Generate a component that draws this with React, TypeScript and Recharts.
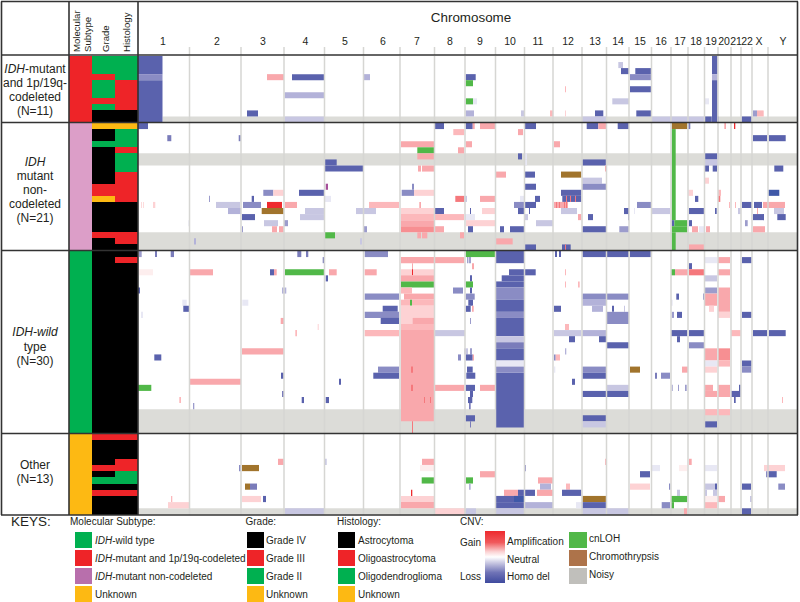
import React from "react";
import { ComposedChart, Line, ReferenceArea, ReferenceLine, XAxis, YAxis } from "recharts";

// genome position runs 0..659 along the panel, rows run top to bottom
type Seg = [number, number, number, string, number?];

const chromNames = ["1","2","3","4","5","6","7","8","9","10","11","12","13","14","15","16","17","18","19","20","21","22","X","Y"];
const chromCenters = [25,79,125,167.5,207,245,279,312,342,372,400,430,457,480,502,523,542,558,573,586,598,609,621,645];
const chromEnds = [51.5,103,146,186.5,225.5,262,296.5,327,357.5,386.5,415,444,468.5,491,513.5,533,550,566.5,580,593,603,614,630];

const CNV_COLORS: Record<string, string> = {
  D: "#3f58a8", d: "#5a62ad", k: "#7a7cba", m: "#8a8cc4", j: "#9c9ccc", l: "#b3b2d9", n: "#c8c7e2", f: "#e8e8f4",
  r: "#fdeeee", q: "#fdd2d4", o: "#fcb8bb", p: "#f9a8ac", t: "#f78f92", s: "#f5787c", A: "#ee2a2e",
  G: "#51b848", C: "#a1742c", V: "#a6509a", N: "#dcdcd8",
};
const CLASS_COLORS: Record<string, string> = {
  wt: "#00b050", codel: "#ee2428", noncodel: "#dc9ec8", IV: "#000000", III: "#ee2428", II: "#00b050",
  A: "#000000", OA: "#ee2428", O: "#00b050", U: "#fdb913",
};

const grade1 = ["II","II","II","III","II","II","II","III","II","IV","IV"];
const histology1 = ["O","O","O","O","OA","OA","OA","OA","OA","A","A"];
const segments1: Seg[] = [
  [10,24.5,659,"N"],
  [0,0,24.5,"d",2],[3,0,24.5,"m"],[4,0,24.5,"d",10],
  [0,574,579.5,"d",2],[3,574,579.5,"l"],[4,574,579.5,"d",10],
  [1,480.3,485,"n"],
  [2,483,491,"d"],[2,497.3,513,"d"],
  [3,129,146,"p"],[3,154,186.5,"d"],[3,225.7,232,"l"],[3,327.7,337.7,"d"],[3,492,513,"m"],
  [4,327.7,335,"G"],
  [5,492,513,"d"],[5,427,428,"o"],
  [6,146.7,186.3,"l"],
  [7,327.7,335,"G"],[7,335,339,"f"],[7,474.3,491,"n"],[7,566.7,571,"f"],
  [9,109,120,"d"],[9,327.7,336,"l"],[9,383,386.7,"n"],[9,412,415,"o"],[9,427,428,"q"],[9,457,465.3,"d"],
  [9,498.3,513,"d"],[9,615,619,"j"],[9,619,625.7,"o"],
  [10,146.7,186.3,"n"],[10,444,468,"n"],[10,513.7,566.3,"n"],[10,567,573.7,"d"],[10,579.5,581,"k"],[10,603.7,613.7,"d"],
];

const grade2 = ["U","IV","IV","II","IV","IV","IV","IV","IV","IV","III","III","U","IV","IV","IV","IV","IV","III","IV","IV"];
const histology2 = ["U","O","O","O","OA","O","O","O","OA","OA","OA","OA","OA","A","A","A","A","A","OA","OA","A"];
const segments2: Seg[] = [
  [5,0,659,"N",6],[18,0,659,"N",20],
  [1,533.7,537.7,"G",15],[18,533.7,537.7,"G",20],
  [0,0,10,"d"],[0,297,306,"d"],[0,327.7,334.7,"d"],[0,334.7,336.7,"p"],[0,342,357,"p"],[0,387,398,"d"],
  [0,448.7,460.3,"d"],[0,460.3,468,"p"],[0,479.7,491,"d"],[0,533.7,549.3,"C"],[0,550,552.3,"k"],[0,586.3,588,"p"],[0,596,597.3,"A"],
  [1,315.3,326.3,"o"],[1,380,385,"p"],
  [2,29.3,33.3,"k"],[2,100.7,103,"k"],[2,615,629,"d"],[2,631,647.7,"d"],
  [3,263,296,"p"],[3,327.7,334,"p"],[3,416,422,"p"],
  [4,279.3,296,"G"],[4,320,326,"p"],
  [5,279.3,296,"p"],[5,380,384,"d"],[5,387,389,"f"],[5,567,579,"d"],[5,579,580.7,"l"],
  [6,187,198.7,"d"],[6,387,389,"f"],[6,444.3,468,"d"],[6,567,580,"n"],
  [7,187,225,"d"],[7,280,283,"p"],[7,284,296,"p"],[7,467,468,"p"],[7,567,571,"d"],[7,574.7,579,"d"],[7,636.3,645.3,"d"],
  [8,358,368,"p"],[8,387,397,"d"],[8,423,443.3,"C"],
  [9,444,464,"n"],[9,567,571,"q"],
  [10,187.7,190,"V"],[10,274,276,"m"],[10,387,398,"d"],[10,444,468,"m"],
  [11,125.3,135.3,"m"],[11,135.3,145.7,"q"],[11,161,186.3,"d"],[11,263.7,276,"m"],[11,276,296,"q"],[11,423,443.3,"d"],
  [11,550.3,555,"q"],[11,580,583,"o"],[11,630.3,641.3,"D"],
  [12,71,72,"j"],[12,113.7,116,"d"],[12,187,193,"f"],[12,317.3,326,"s"],[12,326,329,"n"],[12,342,357,"p"],[12,382,386,"f"],
  [12,397,402,"d"],[12,424.3,443.3,"d"],[12,428,429,"s"],[12,432,433,"s"],[12,437,438,"s"],[12,557,560.3,"d"],[12,580,582.3,"s"],
  [13,3,3.8,"q"],[13,5,5.8,"q"],[13,15,17.3,"q"],[13,78,102,"n"],[13,105,123,"m"],[13,129,144,"A"],[13,147,159,"p"],[13,231,261,"o"],
  [13,281.3,283,"p"],[13,376,386,"m"],[13,387,398,"d"],[13,416,430,"p"],[13,418,419,"s"],[13,421,422,"s"],[13,426,427,"s"],[13,428,429,"s"],
  [13,499,513,"m"],[13,591,592,"o"],[13,597,598,"o"],[13,604,614,"d"],[13,616,624,"d"],[13,625,647,"p"],
  [14,90,103,"l"],[14,123.7,145.7,"C"],[14,167,186.3,"n"],[14,218,238,"n"],[14,263,296,"q"],[14,297,306,"d"],[14,332,333,"d"],
  [14,344,357,"q"],[14,380,386,"d"],[14,391,392,"d"],[14,423,439,"n"],[14,486,491,"d"],[14,496,497,"f"],[14,514,532,"n"],
  [14,551,566,"d"],[14,577,578.7,"d"],[14,600,602.7,"n"],[14,619,620,"p"],[14,636,646,"n"],
  [15,104,117,"d"],[15,162,186.3,"n"],[15,263,296,"o"],[15,297,326,"o"],[15,327,337,"f"],[15,387,390,"n"],[15,440,443.3,"p"],
  [15,450,455,"d"],[15,490,491,"k"],[15,615,626,"d"],[15,639.3,647.7,"d"],
  [16,50.3,51.3,"f"],[16,126,140,"n"],[16,146,150,"j"],[16,263,296,"p"],[16,328,357,"q"],[16,398,404,"n"],[16,404,415,"n"],
  [16,533.7,536.3,"d"],[16,536.3,549.3,"G"],[16,551,554,"d"],[16,607,609.7,"j"],
  [17,104,105,"j"],[17,134,139,"p"],[17,141,145.7,"p"],[17,226,229,"j"],[17,263,296,"t"],[17,297,306,"p"],[17,330,335,"d"],
  [17,362,366,"d"],[17,372,386,"d"],[17,444.3,468,"d"],[17,481.3,491,"j"],[17,533.7,549.3,"G"],[17,554,560,"p"],[17,561,566,"f"],
  [17,568,572,"p"],[17,615,627,"p"],
  [18,187,197,"G"],[18,279.3,283,"p"],[18,284,289.3,"p"],[18,322,326,"p"],
  [19,56,58,"l"],[19,222,224,"n"],[19,358,374.7,"p"],
  [20,387,398,"d"],[20,424,432.7,"d"],[20,427,428,"s"],[20,551,566,"p"],
];

const grade3 = ["IV","IV","IV","IV","IV","IV","IV","IV","IV","IV","IV","IV","IV","IV","IV","IV","IV","IV","IV","IV","IV","IV","IV","IV","IV","IV","IV","IV","IV","IV"];
const histology3 = ["A","OA","A","A","A","A","A","A","A","A","A","A","A","A","A","A","A","A","A","A","A","A","A","A","A","A","A","A","A","A"];
const segments3: Seg[] = [
  [26,0,659,"N",29],
  [0,1,3.7,"j"],[0,17,19,"k"],[0,32.7,36,"k"],[0,159.3,163.3,"k"],[0,168,170.3,"k"],[0,226.7,250,"m"],
  [0,327.7,357,"G"],[0,358,386,"d",1],[0,417,419,"d"],[0,421,423,"d"],[0,444.3,468,"d"],[0,469,491,"d"],[0,492,512.7,"d"],
  [1,184.7,186.3,"k"],[1,263,296,"p"],[1,297,326.3,"p"],[1,329.3,330.3,"k"],[1,331.3,332.7,"k"],[1,567,579,"f"],[1,580,592,"p"],[1,604,613.7,"d"],
  [2,274,275,"p"],[2,334,336,"p"],[2,551,554,"d"],
  [3,1,15,"r"],[3,52,75,"p"],[3,132,136,"d"],[3,136,138.7,"p"],[3,147,186.3,"G"],[3,191,198.7,"p"],[3,226.7,238.7,"p"],
  [3,263,296,"q"],[3,274,275,"A"],[3,371,386,"d"],[3,387,397.7,"d"],[3,427,428,"o"],[3,533,537,"G"],[3,537,550,"p"],[3,551,566.3,"s"],[3,580,592,"p"],
  [4,187.7,190,"d"],[4,263,296,"p"],[4,332,334,"d"],[4,363.7,386,"d"],[4,567,579,"n"],
  [5,263,296,"G"],[5,327.7,335,"G"],[5,358,386,"d"],[5,427,428,"o"],[5,440,441.7,"o"],
  [6,0,2,"d"],[6,144,148.3,"l"],[6,263,274,"o"],[6,315,325,"m"],[6,332,334,"d"],[6,358,386,"m",7],[6,567,579,"j"],[6,580,592,"p",9],
  [7,226.7,261,"m"],[7,266,296,"p"],[7,327.7,336.7,"m"],[7,444.3,468,"m"],[7,469,491,"m"],[7,538.3,541,"d"],[7,565,566.3,"j"],[7,567,579,"p",8],
  [8,44.3,48.7,"f"],[8,104.3,110.3,"f"],[8,263,272,"o"],[8,272,274,"G"],[8,274,296,"o"],[8,330.3,335,"d"],[8,358,386,"d",9],[8,444.3,468,"l"],[8,533,534.7,"f"],
  [9,45.3,51,"d"],[9,244.7,259.7,"d"],[9,263,296,"q",10],[9,327.7,332.7,"d"],[9,334,335.7,"p"],[9,416,423,"d"],[9,454,465,"l"],[9,474,476,"d"],[9,486,487,"n"],[9,571,576,"q"],
  [10,3,5,"f"],[10,226.7,261,"m"],[10,358,386,"m"],[10,469,491,"m",11],[10,533.7,536,"j"],[10,539,544,"d"],[10,580,592,"q"],[10,604,613.7,"d"],
  [11,142.7,146,"p"],[11,242.7,261,"d"],[11,263,296,"q"],[11,274.7,296,"p"],[11,332,333,"j"],[11,358,386,"d",13],
  [12,179.7,180.7,"q"],[12,263,296,"o"],[12,427,431,"o"],
  [13,157.3,159,"o"],[13,226.7,261,"o"],[13,263,296,"p",27],[13,297,327,"n"],[13,416,443.3,"n"],[13,444.3,468,"l"],[13,533,549.3,"d"],[13,551,566,"d"],
  [13,593,602.7,"o"],[13,615,629,"d"],[13,631,647.7,"d"],
  [14,358,386,"n"],[14,431,437,"d"],[14,461,468,"d"],[14,539,542,"d"],
  [15,358,386,"k"],[15,469,491,"d"],[15,551,566.3,"m"],
  [16,104,145.7,"p"],[16,326,330,"n"],[16,332,334,"j"],[16,358,386,"d",17],[16,427,428.3,"l"],[16,567,579,"p",17],[16,580,592,"t",17],
  [17,16.3,23.3,"d"],[17,320,323,"m"],[17,327.7,334.7,"d"],[17,334.7,336,"p"],[17,416,417.7,"m"],[17,417.7,422,"o"],
  [18,358,386,"f"],[18,567,579,"f"],[18,580,592,"o"],[18,604,613.7,"d"],
  [19,240,261,"m"],[19,273,275,"s"],[19,329,334.7,"d"],[19,358,386,"m"],[19,416,417.3,"f"],[19,444.3,468,"m"],[19,492,502,"C"],[19,544,550,"p"],[19,567,579,"q"],[19,604,613.7,"m"],
  [20,143,145.7,"d"],[20,235.3,261,"d"],[20,328.3,337.3,"d"],[20,358,386,"d",28],[20,444.3,468,"d"],[20,517,519,"k"],[20,523,532,"m"],
  [21,52,103,"p"],[21,201,203,"d"],[21,434,437,"d"],
  [22,0,13.3,"G"],[22,273,275,"s"],[22,297,326.3,"p"],[22,327.7,337,"d"],[22,342,357,"p"],[22,469,491,"n"],[22,533.7,534.7,"j"],[22,540,541,"j"],[22,547,548.7,"j"],
  [22,567,575,"p"],[22,580,592,"p",23],[22,601,602.7,"d"],
  [23,144,146,"k"],[23,332,335,"d"],[23,444.3,468,"d"],[23,469,491,"d"],[23,567,579,"p"],[23,593,602.7,"d"],
  [24,41.3,43,"o"],[24,163.7,166,"d"],[24,187.7,191,"d"],[24,286,287,"s"],[24,292,293,"s"],[24,330,334.3,"d"],[24,596,597.7,"d"],[24,644,645,"o"],
  [25,55,56.3,"j"],[25,331,332.7,"k"],
  [26,567,579,"o"],[26,580,592,"o"],
  [27,327.7,337,"d"],[27,444.3,468,"d"],
  [28,274,275,"s",29],[28,332,333,"k"],[28,444.3,468,"n"],[28,567,579,"d"],
];

const grade4 = ["III","IV","IV","IV","IV","III","IV","II","IV","III","IV","IV","IV"];
const histology4 = ["OA","A","A","A","OA","OA","O","O","A","OA","A","A","A"];
const segments4: Seg[] = [
  [12,0,659,"N"],
  [4,140,145.7,"p"],[4,187,188.7,"n"],[4,284,296,"p"],[4,467,468,"o"],[4,551,553.7,"p"],
  [5,101,103,"m"],[5,104,121,"C"],[5,282,296,"r"],[5,387,388,"j"],[5,514,522,"f"],[5,541,549.3,"r"],[5,567,579,"f"],[5,626,647,"q"],
  [6,342,357,"p"],[6,502,512,"d"],[6,628,630,"m"],[6,630,638.7,"d"],
  [7,283.7,296,"G"],[7,328,335,"G"],[7,400,415,"p"],
  [8,107,112,"C"],[8,112,119,"k"],[8,331,332.7,"l"],[8,402,413,"l"],[8,428,432,"o"],[8,492,512,"q"],[8,531,532.3,"m"],[8,567,577,"n"],[8,577,579,"d"],
  [8,604,613,"d"],[8,640.3,647,"m"],
  [9,273,274.3,"A"],[9,366,380,"p"],[9,380,386,"d"],[9,387,397,"d"],[9,399,415,"p"],[9,424,443.3,"d"],[9,539,542,"n"],[9,567,569,"n"],[9,575,579,"n"],
  [10,33,34.3,"o"],[10,104,123,"q"],[10,125,128,"d"],[10,263,296,"q"],[10,358,386,"d"],[10,376,386,"D"],[10,444.3,468,"C"],[10,533,549.3,"G"],[10,567,579,"r"],
  [10,580,587,"p"],[10,612,614,"n"],
  [11,30,51,"q"],[11,263,296,"p"],[11,358,386,"d"],[11,387,415,"l"],[11,438,444,"f"],[11,444.3,468,"d"],[11,523.7,532,"m"],[11,533,536,"G"],[11,567,579,"o"],
  [12,147,186,"n"],[12,297,327,"q"],[12,328,338,"n"],[12,358,386,"n"],[12,444.3,468,"n"],[12,469,491,"n"],[12,546,549,"p"],[12,604,613,"d"],
];

const panels = [
  { top: 56, height: 66.5, subtype: "codel", grade: grade1, histology: histology1, segments: segments1 },
  { top: 123, height: 127.5, subtype: "noncodel", grade: grade2, histology: histology2, segments: segments2 },
  { top: 251, height: 182.5, subtype: "wt", grade: grade3, histology: histology3, segments: segments3 },
  { top: 434, height: 80.5, subtype: "U", grade: grade4, histology: histology4, segments: segments4 },
];

const FONT = "'Liberation Sans', Arial, sans-serif";
const TEXT = "#231f20";

const subtypeKeys = [
  { label: <><i>IDH</i>-wild type</>, color: "#00b050" },
  { label: <><i>IDH</i>-mutant and 1p/19q-codeleted</>, color: "#ee2428" },
  { label: <><i>IDH</i>-mutant non-codeleted</>, color: "#b86fac" },
  { label: "Unknown", color: "#fdb913" },
];
const gradeKeys = [
  { label: "Grade IV", color: "#000000" },
  { label: "Grade III", color: "#ee2428" },
  { label: "Grade II", color: "#00b050" },
  { label: "Unknown", color: "#fdb913" },
];
const histologyKeys = [
  { label: "Astrocytoma", color: "#000000" },
  { label: "Oligoastrocytoma", color: "#ee2428" },
  { label: "Oligodendroglioma", color: "#00b050" },
  { label: "Unknown", color: "#fdb913" },
];
const cnvExtraKeys = [
  { label: "cnLOH", color: "#51b848" },
  { label: "Chromothrypsis", color: "#ad734a" },
  { label: "Noisy", color: "#c0bfbb" },
];
const keyRowTops = [532, 550, 568, 586];

const Label = ({ x, y, size = 10, center, children }: any) => (
  <div
    style={{
      position: "absolute",
      left: center ? x - 60 : x,
      width: center ? 120 : undefined,
      top: y - size,
      height: size * 2,
      lineHeight: `${size * 2}px`,
      fontSize: size,
      textAlign: center ? "center" : "left",
      whiteSpace: "nowrap",
      color: TEXT,
    }}
  >
    {children}
  </div>
);

const RotatedLabel = ({ x, bottom, children }: any) => (
  <div
    style={{
      position: "absolute",
      left: x,
      top: bottom,
      fontSize: 9.6,
      lineHeight: "11px",
      whiteSpace: "nowrap",
      color: TEXT,
      transform: "rotate(-90deg)",
      transformOrigin: "0 0",
    }}
  >
    {children}
  </div>
);

const KeyColumn = ({ x, textX, items }: any) => (
  <>
    {items.map((item: any, i: number) => (
      <React.Fragment key={i}>
        <div style={{ position: "absolute", left: x, top: keyRowTops[i], width: 17, height: 16, background: item.color }} />
        <Label x={textX} y={keyRowTops[i] + 8.5}>{item.label}</Label>
      </React.Fragment>
    ))}
  </>
);

const NO_MARGIN = { top: 0, right: 0, bottom: 0, left: 0 };

const Panel = ({ top, height, subtype, grade, histology, segments }: any) => {
  const rows = grade.length;
  return (
    <>
      <div style={{ position: "absolute", left: 69, top }}>
        <ComposedChart width={69} height={height} data={[{ x: 0, y: 0 }, { x: 3, y: rows }]} margin={NO_MARGIN} style={{ shapeRendering: "crispEdges" }}>
          <XAxis hide type="number" dataKey="x" domain={[0, 3]} allowDataOverflow />
          <YAxis hide type="number" domain={[0, rows]} reversed allowDataOverflow />
          <Line dataKey="y" stroke="none" dot={false} isAnimationActive={false} />
          <ReferenceArea x1={0} x2={1} y1={0} y2={rows} fill={CLASS_COLORS[subtype]} fillOpacity={1} />
          {grade.map((g: string, i: number) => (
            <ReferenceArea key={`g${i}`} x1={1} x2={2} y1={i} y2={i + 1} fill={CLASS_COLORS[g]} fillOpacity={1} />
          ))}
          {histology.map((h: string, i: number) => (
            <ReferenceArea key={`h${i}`} x1={2} x2={3} y1={i} y2={i + 1} fill={CLASS_COLORS[h]} fillOpacity={1} />
          ))}
        </ComposedChart>
      </div>
      <div style={{ position: "absolute", left: 138, top }}>
        <ComposedChart width={659} height={height} data={[{ x: 0, y: 0 }, { x: 659, y: rows }]} margin={NO_MARGIN}>
          <XAxis hide type="number" dataKey="x" domain={[0, 659]} allowDataOverflow />
          <YAxis hide type="number" domain={[0, rows]} reversed allowDataOverflow />
          <Line dataKey="y" stroke="none" dot={false} isAnimationActive={false} />
          {chromEnds.map((b) => (
            <ReferenceLine key={b} x={b} stroke="#d6d6d3" strokeWidth={1.5} />
          ))}
          {segments.map((s: Seg, i: number) => (
            <ReferenceArea key={i} x1={s[1]} x2={s[2]} y1={s[0]} y2={(s[4] ?? s[0]) + 1} fill={CNV_COLORS[s[3]]} fillOpacity={1} />
          ))}
        </ComposedChart>
      </div>
    </>
  );
};

const frameH = [1.5, 55, 122.5, 250.5, 433.5, 515];
const frameV: [number, number, number][] = [
  [1.5, 1.5, 515],
  [69, 1.5, 515],
  [138, 1.5, 515],
  [797.5, 1.5, 515],
];

export default function App() {
  return (
    <div style={{ position: "absolute", left: 0, top: 0, width: 800, height: 602, background: "#fff", overflow: "hidden", fontFamily: FONT }}>
      {/* chromosome header */}
      <div style={{ position: "absolute", left: 138, top: 0 }}>
        <ComposedChart width={659} height={55} data={[{ x: 0, y: 0 }, { x: 659, y: 1 }]} margin={NO_MARGIN}>
          <XAxis
            orientation="top"
            type="number"
            dataKey="x"
            height={47}
            domain={[0, 659]}
            allowDataOverflow
            ticks={chromCenters}
            interval={0}
            axisLine={false}
            tickLine={false}
            tick={{ fontSize: 10.5, fill: TEXT, dy: 6 }}
            tickFormatter={(_: number, i: number) => chromNames[i]}
          />
          <YAxis hide type="number" domain={[0, 1]} allowDataOverflow />
          <Line dataKey="y" stroke="none" dot={false} isAnimationActive={false} />
          {chromEnds.map((b) => (
            <ReferenceLine key={b} x={b} stroke="#d6d6d3" strokeWidth={1.5} />
          ))}
        </ComposedChart>
      </div>
      <Label x={471} y={18} size={13.4} center>Chromosome</Label>

      <RotatedLabel x={71} bottom={52}>Molecular</RotatedLabel>
      <RotatedLabel x={82} bottom={52}>Subtype</RotatedLabel>
      <RotatedLabel x={100} bottom={52}>Grade</RotatedLabel>
      <RotatedLabel x={121} bottom={52}>Histology</RotatedLabel>

      {panels.map((p, i) => (
        <Panel key={i} {...p} />
      ))}

      <svg width={800} height={602} style={{ position: "absolute", left: 0, top: 0, pointerEvents: "none" }}>
        {frameH.map((y) => (
          <line key={y} x1={1} x2={798} y1={y} y2={y} stroke="#333" strokeWidth={1.6} />
        ))}
        {frameV.map(([x, y1, y2]) => (
          <line key={x} x1={x} x2={x} y1={y1} y2={y2} stroke="#333" strokeWidth={1.6} />
        ))}
      </svg>

      <Label x={35} y={69} size={12} center><i>IDH</i>-mutant</Label>
      <Label x={35} y={83} size={12} center>and 1p/19q-</Label>
      <Label x={35} y={97} size={12} center>codeleted</Label>
      <Label x={35} y={111} size={12} center>(N=11)</Label>
      <Label x={35} y={162} size={12} center><i>IDH</i></Label>
      <Label x={35} y={176} size={12} center>mutant</Label>
      <Label x={35} y={190} size={12} center>non-</Label>
      <Label x={35} y={204} size={12} center>codeleted</Label>
      <Label x={35} y={218} size={12} center>(N=21)</Label>
      <Label x={35} y={332} size={12} center><i>IDH-wild</i></Label>
      <Label x={35} y={347} size={12} center>type</Label>
      <Label x={35} y={361} size={12} center>(N=30)</Label>
      <Label x={35} y={465} size={12} center>Other</Label>
      <Label x={35} y={479} size={12} center>(N=13)</Label>

      <Label x={11} y={521} size={13.5}>KEYS:</Label>
      <Label x={70} y={522}>Molecular Subtype:</Label>
      <Label x={245.5} y={522}>Grade:</Label>
      <Label x={337} y={522}>Histology:</Label>
      <Label x={460} y={522}>CNV:</Label>
      <KeyColumn x={75} textX={95} items={subtypeKeys} />
      <KeyColumn x={247} textX={266} items={gradeKeys} />
      <KeyColumn x={338} textX={358} items={histologyKeys} />

      <Label x={460} y={543}>Gain</Label>
      <Label x={460} y={577}>Loss</Label>
      <div
        style={{
          position: "absolute", left: 485, top: 531, width: 20, height: 52,
          background: "linear-gradient(#ee2a2e 0%, #f0595c 22%, #fbd3d4 40%, #ffffff 50%, #c5c4e0 62%, #6f73b6 80%, #3f4a9e 100%)",
        }}
      />
      <Label x={507} y={541.5}>Amplification</Label>
      <Label x={507} y={560}>Neutral</Label>
      <Label x={507} y={577}>Homo del</Label>
      {cnvExtraKeys.map((item, i) => (
        <React.Fragment key={i}>
          <div style={{ position: "absolute", left: 568.5, top: keyRowTops[i], width: 18, height: 16, background: item.color }} />
          <Label x={589} y={keyRowTops[i] + 7}>{item.label}</Label>
        </React.Fragment>
      ))}
    </div>
  );
}
